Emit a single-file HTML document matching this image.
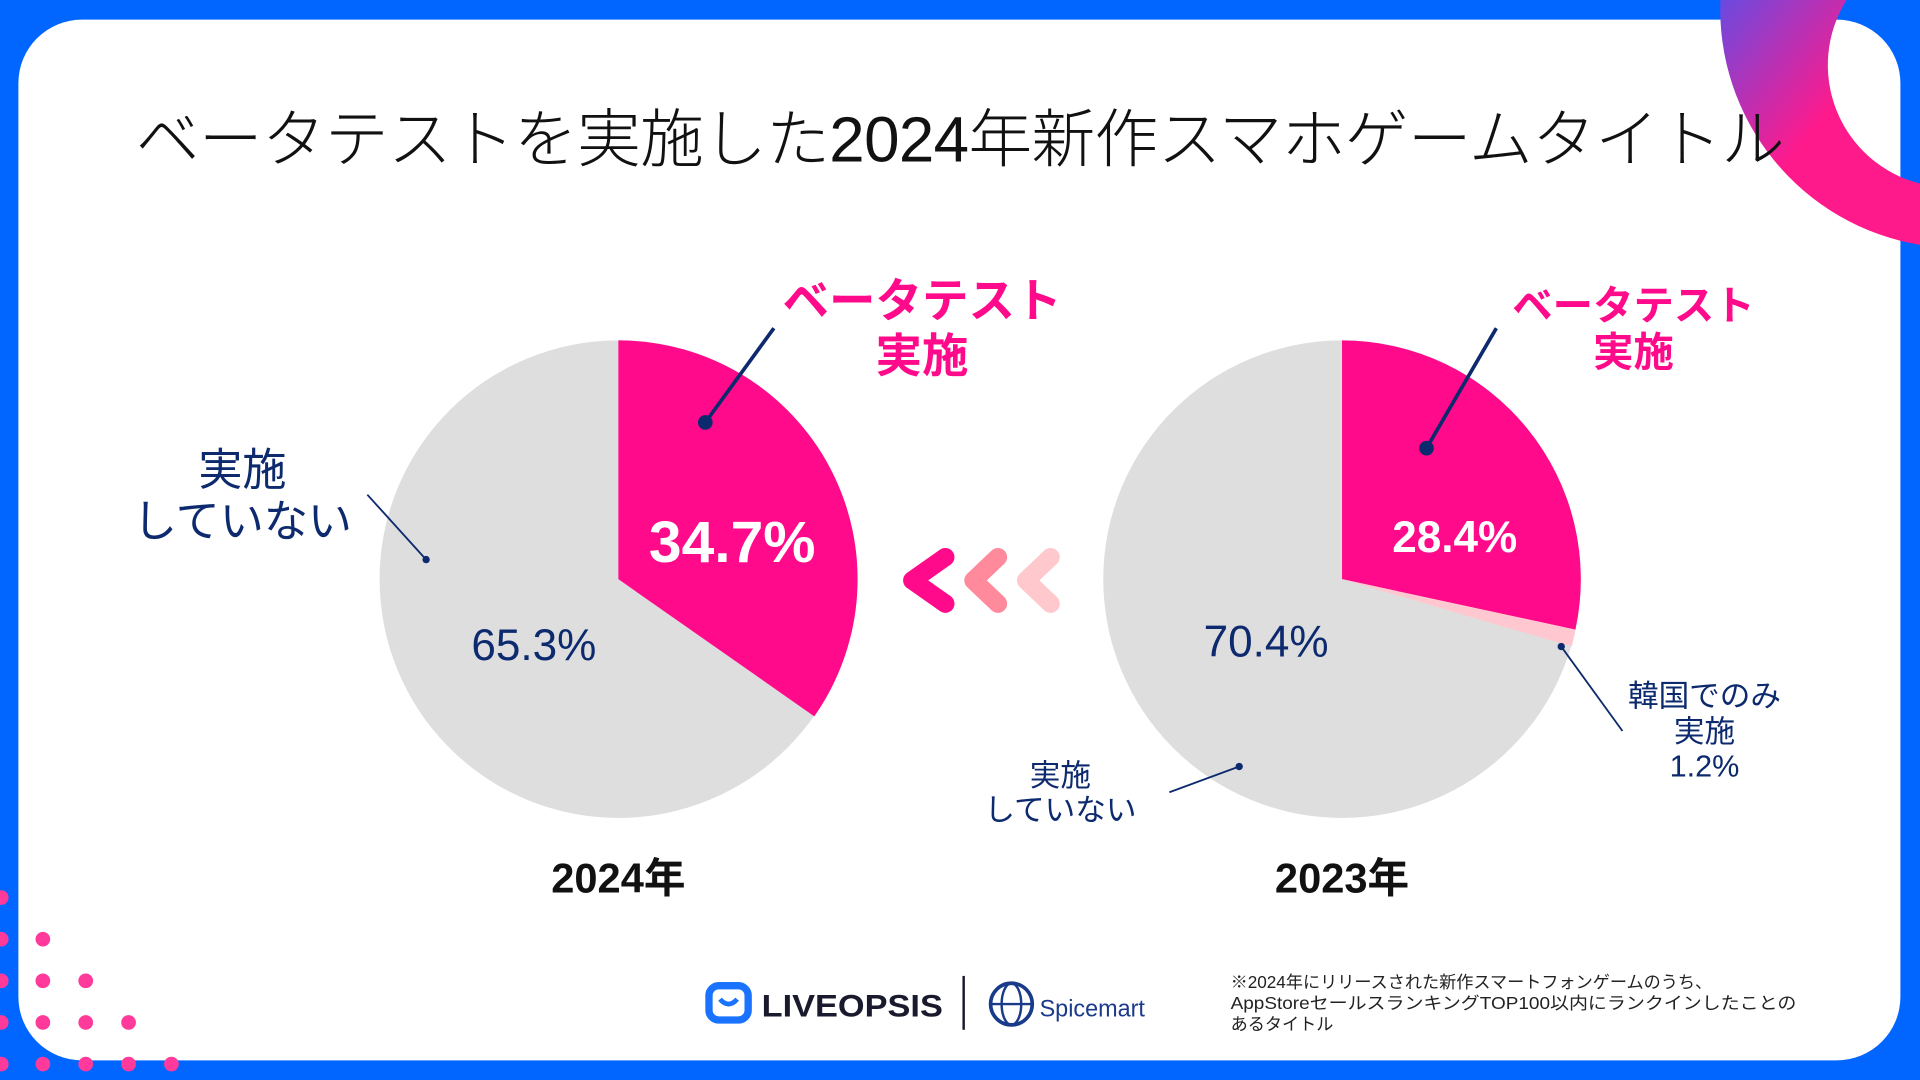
<!DOCTYPE html>
<html><head><meta charset="utf-8"><style>
html,body{margin:0;padding:0;background:#0066ff;overflow:hidden}
svg{display:block}
text{font-family:"Liberation Sans","Noto Sans CJK JP",sans-serif}
</style></head><body>
<svg width="1920" height="1080" viewBox="0 0 1568 882" xmlns="http://www.w3.org/2000/svg">
<rect width="1568" height="882" fill="#0066ff"/>
<rect x="15" y="16" width="1537" height="850" rx="52" fill="#fff"/>
<defs>
<linearGradient id="g" x1="0" y1="0" x2="1" y2="1"><stop offset="0" stop-color="#6a4ae0"/><stop offset="0.5" stop-color="#ff1a8c"/><stop offset="1" stop-color="#ff1a8c"/></linearGradient>
</defs>
<path d="M1405,0 A195,195 0 0 0 1568,200 L1568,150 A100,100 0 0 1 1508,0 Z" fill="url(#g)"/>
<text x="784" y="132" text-anchor="middle" font-size="52" letter-spacing="-0.5" fill="#111" font-family="'Noto Sans CJK JP',sans-serif" font-weight="300">ベータテストを実施した2024年新作スマホゲームタイトル</text>

<circle cx="505" cy="473" r="195" fill="#dedede"/>
<path d="M505,473 L505,278 A195,195 0 0 1 665,585 Z" fill="#ff0a8a"/>
<text x="598" y="459" text-anchor="middle" font-size="48" font-weight="700" fill="#fff">34.7%</text>
<text x="436" y="539" text-anchor="middle" font-size="36" fill="#0d2a6e">65.3%</text>
<line x1="576" y1="345" x2="632" y2="268" stroke="#0d2a6e" stroke-width="3"/>
<circle cx="576" cy="345" r="6" fill="#0d2a6e"/>
<text x="753" y="259" text-anchor="middle" font-size="38" font-weight="700" fill="#ff0a8a" font-family="'Noto Sans CJK JP',sans-serif">ベータテスト</text>
<text x="753" y="304" text-anchor="middle" font-size="38" font-weight="700" fill="#ff0a8a" font-family="'Noto Sans CJK JP',sans-serif">実施</text>
<text x="198" y="396" text-anchor="middle" font-size="36" fill="#0d2a6e" font-family="'Noto Sans CJK JP',sans-serif">実施</text>
<text x="198" y="438" text-anchor="middle" font-size="36" fill="#0d2a6e" font-family="'Noto Sans CJK JP',sans-serif">していない</text>
<line x1="300" y1="404" x2="348" y2="457" stroke="#0d2a6e" stroke-width="1.5"/>
<circle cx="348" cy="457" r="3" fill="#0d2a6e"/>
<text x="505" y="729" text-anchor="middle" font-size="34" font-weight="700" fill="#111" font-family="'Noto Sans CJK JP',sans-serif">2024年</text>

<g fill="none" stroke-linecap="round" stroke-linejoin="round" stroke-width="15">
<polyline points="858,455 838,474 858,493" stroke="#ffc8cc"/>
<polyline points="815,455 795,474 815,493" stroke="#ff8a9c"/>
<polyline points="772,455 745,474 772,493" stroke="#ff0a8a"/>
</g>

<circle cx="1096" cy="473" r="195" fill="#dedede"/>
<path d="M1096,473 L1096,278 A195,195 0 0 1 1286.6,514.2 Z" fill="#ff0a8a"/>
<path d="M1096,473 L1286.6,514.2 A195,195 0 0 1 1283.6,528 Z" fill="#ffc8d0"/>
<text x="1188" y="451" text-anchor="middle" font-size="36" font-weight="700" fill="#fff">28.4%</text>
<text x="1034" y="536" text-anchor="middle" font-size="36" fill="#0d2a6e">70.4%</text>
<line x1="1165" y1="366" x2="1222" y2="268" stroke="#0d2a6e" stroke-width="3"/>
<circle cx="1165" cy="366" r="6" fill="#0d2a6e"/>
<text x="1334" y="261" text-anchor="middle" font-size="33" font-weight="700" fill="#ff0a8a" font-family="'Noto Sans CJK JP',sans-serif">ベータテスト</text>
<text x="1334" y="299" text-anchor="middle" font-size="33" font-weight="700" fill="#ff0a8a" font-family="'Noto Sans CJK JP',sans-serif">実施</text>
<line x1="1275" y1="528" x2="1325" y2="597" stroke="#0d2a6e" stroke-width="1.5"/>
<circle cx="1275" cy="528" r="3" fill="#0d2a6e"/>
<text x="1392" y="577" text-anchor="middle" font-size="25" fill="#0d2a6e" font-family="'Noto Sans CJK JP',sans-serif">韓国でのみ</text>
<text x="1392" y="606" text-anchor="middle" font-size="25" fill="#0d2a6e" font-family="'Noto Sans CJK JP',sans-serif">実施</text>
<text x="1392" y="634" text-anchor="middle" font-size="25" fill="#0d2a6e">1.2%</text>
<line x1="955" y1="647" x2="1012" y2="626" stroke="#0d2a6e" stroke-width="1.5"/>
<circle cx="1012" cy="626" r="3" fill="#0d2a6e"/>
<text x="866" y="642" text-anchor="middle" font-size="25" fill="#0d2a6e" font-family="'Noto Sans CJK JP',sans-serif">実施</text>
<text x="866" y="670" text-anchor="middle" font-size="25" fill="#0d2a6e" font-family="'Noto Sans CJK JP',sans-serif">していない</text>
<text x="1096" y="729" text-anchor="middle" font-size="34" font-weight="700" fill="#111" font-family="'Noto Sans CJK JP',sans-serif">2023年</text>

<g fill="#ff3a9a">
<circle cx="1" cy="733" r="6"/>
<circle cx="1" cy="767" r="6"/><circle cx="35" cy="767" r="6"/>
<circle cx="1" cy="801" r="6"/><circle cx="35" cy="801" r="6"/><circle cx="70" cy="801" r="6"/>
<circle cx="1" cy="835" r="6"/><circle cx="35" cy="835" r="6"/><circle cx="70" cy="835" r="6"/><circle cx="105" cy="835" r="6"/>
<circle cx="1" cy="869" r="6"/><circle cx="35" cy="869" r="6"/><circle cx="70" cy="869" r="6"/><circle cx="105" cy="869" r="6"/><circle cx="140" cy="869" r="6"/>
</g>

<rect x="579" y="805" width="32" height="28" rx="8" fill="none" stroke="#1a73ff" stroke-width="6"/>
<path d="M588,816 q7,8 14,0" fill="none" stroke="#1a73ff" stroke-width="4"/>
<text x="622" y="830" font-size="26" font-weight="700" fill="#1a1a2e" textLength="148" lengthAdjust="spacingAndGlyphs">LIVEOPSIS</text>
<line x1="787" y1="797" x2="787" y2="841" stroke="#1a1a2e" stroke-width="2"/>
<circle cx="826" cy="820" r="17" fill="none" stroke="#1a3a8a" stroke-width="3"/>
<ellipse cx="826" cy="820" rx="8" ry="17" fill="none" stroke="#1a3a8a" stroke-width="2"/>
<line x1="809" y1="820" x2="843" y2="820" stroke="#1a3a8a" stroke-width="2"/>
<text x="849" y="830" font-size="20" fill="#1a3a8a" textLength="86" lengthAdjust="spacingAndGlyphs">Spicemart</text>

<g font-size="14" fill="#222" font-family="'Noto Sans CJK JP',sans-serif">
<text x="1005" y="807">※2024年にリリースされた新作スマートフォンゲームのうち、</text>
<text x="1005" y="824" textLength="462" lengthAdjust="spacingAndGlyphs">AppStoreセールスランキングTOP100以内にランクインしたことの</text>
<text x="1005" y="841">あるタイトル</text>
</g>
</svg>
</body></html>
